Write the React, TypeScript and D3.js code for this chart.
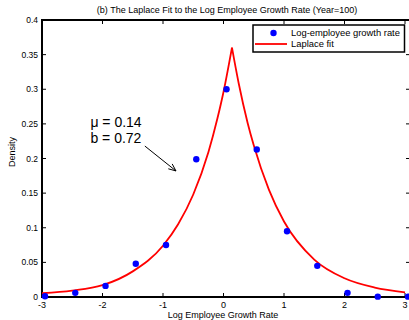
import React from "react";
import * as d3 from "d3";

// observed histogram (log employee growth rate)
const growthX = [-2.95, -2.45, -1.95, -1.45, -0.95, -0.45, 0.05, 0.55, 1.05, 1.55, 2.05, 2.55, 3.05];
const growthDensity = [0.001, 0.006, 0.016, 0.048, 0.075, 0.199, 0.3, 0.213, 0.095, 0.045, 0.006, 0.0005, 0.0005];

// laplace fit curve
const fitX = [-3, -2.5, -2, -1.5, -1, -0.75, -0.5, -0.25, -0.1, 0, 0.14, 0.25, 0.4, 0.5, 0.75, 1, 1.5, 2, 2.5, 3];
const fitDensity = [0.0054, 0.0092, 0.017, 0.037, 0.074, 0.105, 0.148, 0.209, 0.258, 0.296, 0.36, 0.309, 0.251, 0.219, 0.155, 0.109, 0.054, 0.027, 0.0136, 0.0068];
const peakX = 0.14;

const xTicks = [-3, -2, -1, 0, 1, 2, 3];
const yTicks = [0, 0.05, 0.1, 0.15, 0.2, 0.25, 0.3, 0.35, 0.4];
const yTickLabels = ["0", "0.05", "0.1", "0.15", "0.2", "0.25", "0.3", "0.35", "0.4"];

const title = "(b) The Laplace Fit to the Log Employee Growth Rate (Year=100)";
const legendLabels = ["Log-employee growth rate", "Laplace fit"];
const annotation = ["\u03bc = 0.14", "b = 0.72"];

const W = 409;
const H = 320;
const font = "'Liberation Sans', Arial, Helvetica, sans-serif";

export default function App() {
  const left = 42;
  const right = 405;
  const top = 20;
  const bottom = 297;
  const frameRight = 410;

  const x = d3.scaleLinear().domain([-3, 3]).range([left, right]);
  const y = d3.scaleLinear().domain([0, 0.4]).range([bottom, top]);

  const fit = fitX.map((v, i) => [v, fitDensity[i]] as [number, number]);
  const leftSide = fit.filter((d) => d[0] <= peakX);
  const rightSide = fit.filter((d) => d[0] >= peakX);

  const line = d3
    .line<[number, number]>()
    .x((d) => x(d[0]))
    .y((d) => y(d[1]))
    .curve(d3.curveMonotoneX);

  // arrow from the annotation to the curve
  const ax0 = x(-1.3), ay0 = y(0.218);
  const ax1 = x(-0.785), ay1 = y(0.182);
  const ang = Math.atan2(ay1 - ay0, ax1 - ax0);
  const hl = 8;
  const ha = 0.4;
  const head = `M${ax1 - hl * Math.cos(ang - ha)},${ay1 - hl * Math.sin(ang - ha)}L${ax1},${ay1}L${ax1 - hl * Math.cos(ang + ha)},${ay1 - hl * Math.sin(ang + ha)}`;

  const tk = 4;

  return (
    <svg width={W} height={H} style={{ position: "absolute", left: 0, top: 0, background: "#fff" }} fontFamily={font}>
      <rect x={0} y={0} width={W} height={H} fill="#fff" />
      <text x={227} y={13} fontSize={9} textAnchor="middle" fill="#000">{title}</text>

      {/* ticks */}
      {xTicks.map((t) => (
        <g key={"x" + t}>
          <line x1={x(t)} x2={x(t)} y1={bottom} y2={bottom - tk} stroke="#000" strokeWidth={1} />
          <line x1={x(t)} x2={x(t)} y1={top} y2={top + tk} stroke="#000" strokeWidth={1} />
          <text x={x(t)} y={308} fontSize={9} textAnchor="middle" fill="#000">{t}</text>
        </g>
      ))}
      {yTicks.map((t, i) => (
        <g key={"y" + t}>
          <line x1={left} x2={left + tk} y1={y(t)} y2={y(t)} stroke="#000" strokeWidth={1} />
          <line x1={frameRight} x2={frameRight - tk} y1={y(t)} y2={y(t)} stroke="#000" strokeWidth={1} />
          <text x={38} y={y(t) + 3} fontSize={8.5} textAnchor="end" fill="#000">{yTickLabels[i]}</text>
        </g>
      ))}

      {/* frame */}
      <path d={`M${frameRight},${top}H${left}V${bottom}H${frameRight}`} fill="none" stroke="#000" strokeWidth={2} />

      <text x={223} y={318} fontSize={9} textAnchor="middle" fill="#000">Log Employee Growth Rate</text>
      <text transform={`translate(15,152) rotate(-90)`} fontSize={9} textAnchor="middle" fill="#000">Density</text>

      {/* fit */}
      <path d={line(leftSide) || ""} fill="none" stroke="#ff0000" strokeWidth={1.8} />
      <path d={line(rightSide) || ""} fill="none" stroke="#ff0000" strokeWidth={1.8} />

      {/* data points */}
      {growthX.map((v, i) => (
        <circle key={"p" + i} cx={x(v)} cy={y(growthDensity[i])} r={3.2} fill="#0000ff" />
      ))}

      {/* annotation */}
      <text x={x(-2.2)} y={y(0.2457)} fontSize={14} fill="#000">{annotation[0]}</text>
      <text x={x(-2.2)} y={y(0.2225)} fontSize={14} fill="#000">{annotation[1]}</text>
      <line x1={ax0} y1={ay0} x2={ax1} y2={ay1} stroke="#000" strokeWidth={1} />
      <path d={head} fill="none" stroke="#000" strokeWidth={1} />

      {/* legend */}
      <rect x={253} y={25} width={151.5} height={27} fill="#fff" stroke="#000" strokeWidth={1.5} />
      <circle cx={273.5} cy={33} r={3.2} fill="#0000ff" />
      <text x={291} y={36.3} fontSize={9.4} fill="#000">{legendLabels[0]}</text>
      <line x1={255} x2={287} y1={44} y2={44} stroke="#ff0000" strokeWidth={1.8} />
      <text x={291} y={47.3} fontSize={9.4} fill="#000">{legendLabels[1]}</text>
    </svg>
  );
}
